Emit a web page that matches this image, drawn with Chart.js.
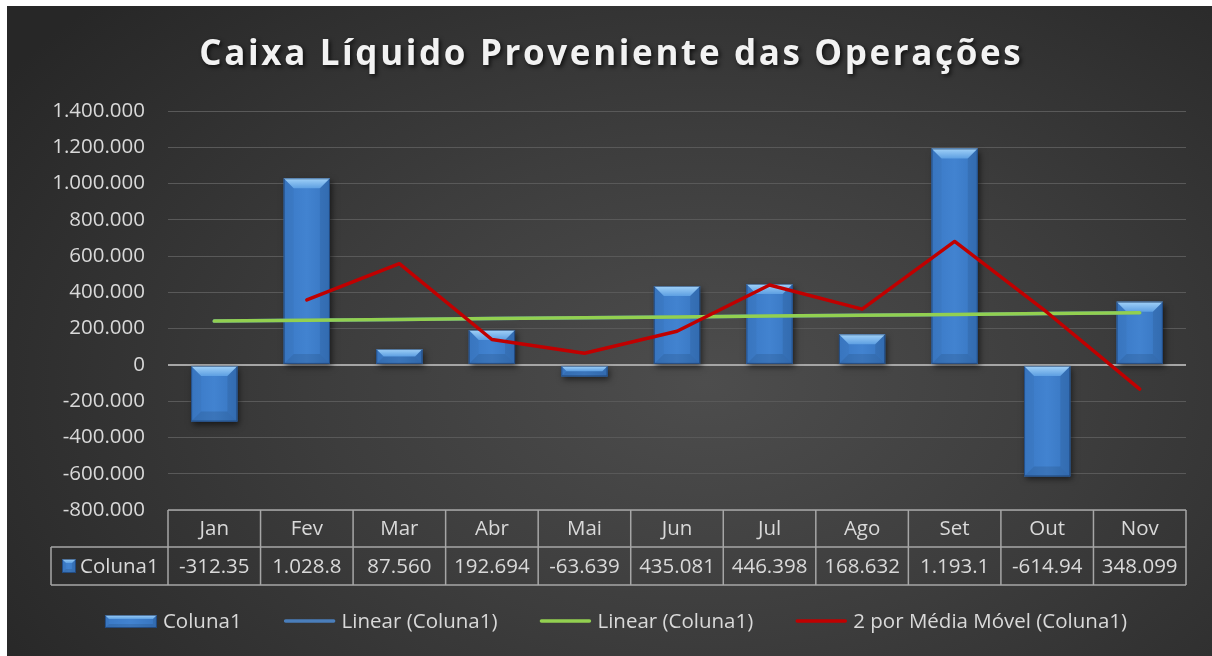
<!DOCTYPE html>
<html>
<head>
<meta charset="utf-8">
<script src="https://cdn.jsdelivr.net/npm/chart.js@4"></script>
<style>
  html, body { margin: 0; padding: 0; background: #ffffff; }
  #wrap {
    position: absolute; left: 7px; top: 6px; width: 1205px; height: 650px;
    background: radial-gradient(ellipse 70% 85% at 58% 58%, #4d4d4d 0%, #3d3d3d 45%, #272727 100%);
  }
</style>
</head>
<body>
<div id="wrap"><canvas id="chart"></canvas></div>
<script>
const titleText = 'Caixa Líquido Proveniente das Operações';
const labels = ['Jan', 'Fev', 'Mar', 'Abr', 'Mai', 'Jun', 'Jul', 'Ago', 'Set', 'Out', 'Nov'];
const coluna1 = [-312350, 1028800, 87560, 192694, -63639, 435081, 446398, 168632, 1193100, -614940, 348099];
// text as it shows in the data table (cells clip long numbers)
const tableText = ['-312.35', '1.028.8', '87.560', '192.694', '-63.639', '435.081', '446.398', '168.632', '1.193.1', '-614.94', '348.099'];
const linearTrend = [241500, 246100, 250700, 255300, 259900, 264500, 269100, 273700, 278300, 282900, 287500];
const movingAvg = [null, 358225, 558180, 140127, 64528, 185721, 440740, 307515, 680866, 289080, -133420];
const yMin = -800000;
const yMax = 1400000;
const yStep = 200000;
const legendNames = ['Coluna1', 'Linear (Coluna1)', 'Linear (Coluna1)', '2 por Média Móvel (Coluna1)'];

const FONT = '"Open Sans", "Noto Sans", sans-serif';
const TXT = '#d9d9d9';

function bevelRect(ctx, l, t, r, b, d) {
  ctx.save();
  d = Math.min(d, (b - t) / 2, (r - l) / 2);
  let g = ctx.createLinearGradient(l, 0, r, 0);
  g.addColorStop(0, '#3a79c6');
  g.addColorStop(0.5, '#4283d0');
  g.addColorStop(1, '#3775c0');
  ctx.fillStyle = g;
  ctx.fillRect(l, t, r - l, b - t);
  // top
  g = ctx.createLinearGradient(0, t, 0, t + d);
  g.addColorStop(0, '#a2d2f8');
  g.addColorStop(1, '#5d9fe2');
  ctx.fillStyle = g;
  ctx.beginPath();
  ctx.moveTo(l, t); ctx.lineTo(r, t); ctx.lineTo(r - d, t + d); ctx.lineTo(l + d, t + d);
  ctx.closePath(); ctx.fill();
  // left
  ctx.fillStyle = 'rgba(0,0,0,0.03)';
  ctx.beginPath();
  ctx.moveTo(l, t); ctx.lineTo(l + d, t + d); ctx.lineTo(l + d, b - d); ctx.lineTo(l, b);
  ctx.closePath(); ctx.fill();
  // right
  ctx.fillStyle = 'rgba(0,0,0,0.08)';
  ctx.beginPath();
  ctx.moveTo(r, t); ctx.lineTo(r - d, t + d); ctx.lineTo(r - d, b - d); ctx.lineTo(r, b);
  ctx.closePath(); ctx.fill();
  // bottom
  ctx.fillStyle = 'rgba(0,0,0,0.1)';
  ctx.beginPath();
  ctx.moveTo(l, b); ctx.lineTo(r, b); ctx.lineTo(r - d, b - d); ctx.lineTo(l + d, b - d);
  ctx.closePath(); ctx.fill();
  ctx.strokeStyle = 'rgba(20,45,85,0.55)';
  ctx.lineWidth = 1;
  ctx.strokeRect(l + 0.5, t + 0.5, r - l - 1, b - t - 1);
  ctx.restore();
}

const excelLook = {
  id: 'excelLook',
  beforeDatasetDraw(chart, args) {
    if (args.index !== 0) return;
    const ctx = chart.ctx;
    ctx.save();
    ctx.shadowColor = 'rgba(0,0,0,0.55)';
    ctx.shadowBlur = 6;
    ctx.shadowOffsetX = 2;
    ctx.shadowOffsetY = 3;
  },
  afterDatasetDraw(chart, args) {
    if (args.index !== 0) return;
    const ctx = chart.ctx;
    ctx.restore();
    args.meta.data.forEach(bar => {
      const p = bar.getProps(['x', 'y', 'base', 'width'], true);
      const l = p.x - p.width / 2, r = p.x + p.width / 2;
      const t = Math.min(p.y, p.base), b = Math.max(p.y, p.base);
      bevelRect(ctx, l, t, r, b, 10);
    });
  },
  afterDraw(chart) {
    const ctx = chart.ctx;
    const area = chart.chartArea;
    const xs = chart.scales.x;
    const n = labels.length;
    const cw = xs.width / n;

    // title
    ctx.save();
    ctx.font = 'bold 35px ' + FONT;
    ctx.letterSpacing = '0px';
    const w0 = ctx.measureText(titleText).width;
    const sp = (824 - w0) / titleText.length;
    ctx.letterSpacing = sp.toFixed(2) + 'px';
    ctx.textAlign = 'center';
    ctx.textBaseline = 'alphabetic';
    ctx.shadowColor = 'rgba(0,0,0,0.7)';
    ctx.shadowBlur = 4;
    ctx.shadowOffsetX = 2;
    ctx.shadowOffsetY = 2;
    ctx.fillStyle = '#f2f2f2';
    ctx.fillText(titleText, 603 + sp / 2, 59);
    ctx.restore();

    // data table
    const top = area.bottom, mid = area.bottom + 37, bot = area.bottom + 75;
    const keyLeft = 44;
    ctx.save();
    ctx.strokeStyle = '#a6a6a6';
    ctx.lineWidth = 1.5;
    ctx.beginPath();
    ctx.moveTo(area.left, top); ctx.lineTo(area.right, top);
    ctx.moveTo(keyLeft, mid); ctx.lineTo(area.right, mid);
    ctx.moveTo(keyLeft, bot); ctx.lineTo(area.right, bot);
    ctx.moveTo(keyLeft, mid); ctx.lineTo(keyLeft, bot);
    for (let i = 0; i <= n; i++) {
      const x = xs.getPixelForValue(Math.min(i, n - 1)) + (i === n ? cw / 2 : -cw / 2);
      ctx.moveTo(x, top); ctx.lineTo(x, bot);
    }
    ctx.stroke();
    ctx.font = '20.5px ' + FONT;
    ctx.fillStyle = TXT;
    ctx.textAlign = 'center';
    ctx.textBaseline = 'middle';
    labels.forEach((lab, i) => {
      const x = xs.getPixelForValue(i);
      ctx.fillText(lab, x, (top + mid) / 2 + 1);
      ctx.fillText(tableText[i], x, (mid + bot) / 2 + 1);
    });
    bevelRect(ctx, 55, 553, 69, 567, 4);
    ctx.fillStyle = TXT;
    ctx.textAlign = 'left';
    ctx.fillText(legendNames[0], 73, (mid + bot) / 2 + 1);
    ctx.restore();

    // legend
    ctx.save();
    ctx.font = '20.5px ' + FONT;
    ctx.textBaseline = 'middle';
    const iconW = 52, gapT = 6, gapI = 42, ly = 615;
    const widths = legendNames.map(s => ctx.measureText(s).width);
    let total = 0;
    widths.forEach(w => total += iconW + gapT + w);
    total += gapI * (legendNames.length - 1);
    let x = 609 - total / 2;
    chart.data.datasets.forEach((ds, i) => {
      if (i === 0) {
        bevelRect(ctx, x, ly - 6, x + iconW, ly + 7, 4);
      } else {
        ctx.strokeStyle = ds.borderColor;
        ctx.lineWidth = 3.5;
        ctx.lineCap = 'round';
        ctx.beginPath();
        ctx.moveTo(x + 2, ly); ctx.lineTo(x + iconW - 2, ly);
        ctx.stroke();
      }
      ctx.fillStyle = TXT;
      ctx.fillText(legendNames[i], x + iconW + gapT, ly + 1);
      x += iconW + gapT + widths[i] + gapI;
    });
    ctx.restore();
  }
};

new Chart(document.getElementById('chart'), {
  type: 'bar',
  data: {
    labels: labels,
    datasets: [
      {
        type: 'bar',
        label: legendNames[0],
        data: coluna1,
        backgroundColor: '#3e7ecb',
        borderWidth: 0,
        barPercentage: 0.5,
        categoryPercentage: 1,
        order: 4
      },
      {
        type: 'line',
        label: legendNames[1],
        data: linearTrend,
        borderColor: '#4a7ebb',
        borderWidth: 3.5,
        pointRadius: 0,
        borderCapStyle: 'round',
        order: 3
      },
      {
        type: 'line',
        label: legendNames[2],
        data: linearTrend,
        borderColor: '#92d050',
        borderWidth: 3.5,
        pointRadius: 0,
        borderCapStyle: 'round',
        order: 2
      },
      {
        type: 'line',
        label: legendNames[3],
        data: movingAvg,
        borderColor: '#c00000',
        borderWidth: 3.5,
        pointRadius: 0,
        borderCapStyle: 'round',
        borderJoinStyle: 'round',
        order: 1
      }
    ]
  },
  options: {
    responsive: true,
    maintainAspectRatio: false,
    animation: false,
    layout: { padding: { left: 0, top: 105, right: 26, bottom: 146 } },
    plugins: {
      legend: { display: false },
      title: { display: false },
      tooltip: { enabled: false }
    },
    scales: {
      x: {
        grid: { display: false },
        border: { display: false },
        ticks: { display: false },
        afterFit(scale) { scale.height = 0; }
      },
      y: {
        min: yMin,
        max: yMax,
        border: { display: false },
        grid: {
          drawTicks: false,
          color: c => c.tick && c.tick.value === 0 ? '#a6a6a6' : '#595959',
          lineWidth: c => c.tick && c.tick.value === 0 ? 2 : 1
        },
        ticks: {
          stepSize: yStep,
          padding: 23,
          color: TXT,
          font: { family: FONT, size: 20.5 },
          callback: v => v.toLocaleString('de-DE')
        },
        afterFit(scale) { scale.width = 161; }
      }
    }
  },
  plugins: [excelLook]
});
</script>
</body>
</html>
